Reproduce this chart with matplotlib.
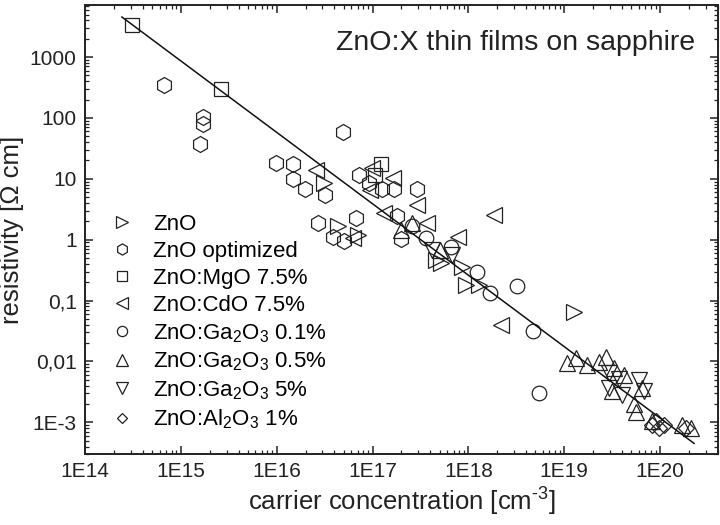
import numpy as np
import matplotlib
matplotlib.use('Agg')
import matplotlib.pyplot as plt
from matplotlib.ticker import FixedLocator, NullFormatter

plt.rcParams['font.family'] = ['Liberation Sans', 'DejaVu Sans']
plt.rcParams['mathtext.fontset'] = 'custom'
plt.rcParams['mathtext.rm'] = 'Liberation Sans'
plt.rcParams['mathtext.it'] = 'Liberation Sans'

# carrier concentration [cm^-3] / resistivity [Ohm cm]
zno_n = [3.1e16, 4.4e16, 7.0e16, 4.6e17, 5.2e17, 8.5e17, 9.5e17, 1.3e18, 1.27e19]
zno_r = [8.5, 1.66, 1.18, 0.46, 0.41, 0.35, 0.178, 0.178, 0.064]

opt_n = [6.6e14, 1.7e15, 1.7e15, 1.6e15, 4.9e16, 9.8e15, 1.47e16, 1.47e16, 1.96e16,
         3.2e16, 2.7e16, 6.8e16, 3.9e16, 5.0e16, 7.2e16, 9.1e16, 1.27e17, 1.66e17,
         2.9e17, 1.78e17, 1.96e17]
opt_r = [346, 103, 79, 37, 58, 18.1, 17.4, 9.8, 6.75,
         5.4, 1.86, 2.25, 1.09, 0.94, 11.5, 8.5, 6.75, 6.75,
         6.75, 2.43, 1.02]

mgo_n = [3.1e14, 2.6e15, 1.24e17, 1.05e17]
mgo_r = [3360, 298, 17.4, 11.5]

cdo_n = [2.6e16, 9.8e16, 9.3e16, 1.62e17, 2.9e17, 1.33e17, 3.7e17, 7.7e17, 1.87e18,
         2.2e18, 6.2e16]
cdo_r = [13.8, 14.9, 6.5, 10.2, 3.68, 2.72, 1.86, 1.09, 2.52,
         0.039, 1.05]

ga01_n = [2.55e17, 3.65e17, 6.6e17, 1.24e18, 1.66e18, 3.2e18, 4.75e18, 5.5e18]
ga01_r = [1.66, 1.05, 0.75, 0.29, 0.131, 0.171, 0.032, 0.0030]

ga05_n = [2.0e17, 2.6e17, 5.0e17, 1.07e19, 1.33e19, 1.74e19, 2.3e19, 2.74e19, 3.3e19,
          4.2e19, 3.16e19, 6.5e19, 5.6e19, 8.3e19, 1.69e20, 2.1e20, 5.4e19]
ga05_r = [1.43, 1.9, 0.67, 0.0093, 0.0112, 0.0086, 0.0098, 0.0118, 0.0077,
          0.0059, 0.0033, 0.0036, 0.00145, 0.00107, 0.00089, 0.00082, 0.0020]

ga5_n = [4.2e17, 6.8e17, 3.74e19, 6.0e19, 2.94e19, 4.0e19, 6.8e19, 2.94e19]
ga5_r = [0.67, 0.55, 0.0052, 0.0049, 0.0037, 0.0028, 0.0033, 0.0064]

al_n = [8.3e19, 9.8e19, 1.1e20, 1.86e20, 9.1e19]
al_r = [0.00089, 0.00082, 0.00089, 0.00082, 0.00107]

fit_n = [2.43e14, 2.26e20]
fit_r = [4550, 4.5e-4]

x_ticks = [1e14, 1e15, 1e16, 1e17, 1e18, 1e19, 1e20]
x_labels = ['1E14', '1E15', '1E16', '1E17', '1E18', '1E19', '1E20']
y_ticks = [1e-3, 1e-2, 1e-1, 1, 10, 100, 1000]
y_labels = ['1E-3', '0,01', '0,1', '1', '10', '100', '1000']

series = [
    (zno_n, zno_r, '>', 11.5, 'ZnO'),
    (opt_n, opt_r, 'h', 11.5, 'ZnO optimized'),
    (mgo_n, mgo_r, 's', 10, 'ZnO:MgO 7.5%'),
    (cdo_n, cdo_r, '<', 11.5, 'ZnO:CdO 7.5%'),
    (ga01_n, ga01_r, 'o', 10.5, 'ZnO:Ga$_2$O$_3$ 0.1%'),
    (ga05_n, ga05_r, '^', 11.5, 'ZnO:Ga$_2$O$_3$ 0.5%'),
    (ga5_n, ga5_r, 'v', 11.5, 'ZnO:Ga$_2$O$_3$ 5%'),
    (al_n, al_r, 'D', 8, 'ZnO:Al$_2$O$_3$ 1%'),
]

fig = plt.figure(figsize=(7.2, 5.25), dpi=100)
ax = fig.add_axes([0.118, 0.135, 0.879, 0.855])

for n, r, m, ms, lab in series:
    ax.plot(n, r, linestyle='none', marker=m, ms=ms, mfc='none', mec='#222222',
            mew=0.9, label=lab)

ax.plot(fit_n, fit_r, color='#111111', lw=1.1)

ax.set_xscale('log')
ax.set_yscale('log')
ax.set_xlim(1e14, 4e20)
ax.set_ylim(3e-4, 7.1e3)

def minor_ticks(lo, hi):
    out = []
    for e in range(lo, hi):
        out += [k * 10.0 ** e for k in range(2, 10)]
    return out

xmin = [v for v in minor_ticks(14, 21) if v <= 4e20]
ymin = [v for v in minor_ticks(-4, 4) if 3e-4 <= v <= 7.1e3]

ax.xaxis.set_major_locator(FixedLocator(x_ticks))
ax.yaxis.set_major_locator(FixedLocator(y_ticks))
ax.xaxis.set_minor_locator(FixedLocator(xmin))
ax.yaxis.set_minor_locator(FixedLocator(ymin))
ax.set_xticklabels(x_labels)
ax.set_yticklabels(y_labels)
ax.xaxis.set_minor_formatter(NullFormatter())
ax.yaxis.set_minor_formatter(NullFormatter())

ax.tick_params(which='both', direction='in', top=True, right=True, colors='#222222')
ax.tick_params(which='major', length=6, width=1.1, labelsize=15, pad=6)
ax.tick_params(which='minor', length=3, width=0.9)
for s in ax.spines.values():
    s.set_linewidth(1.4)
    s.set_color('#222222')

ax.set_xlabel('carrier concentration [cm$^{\\text{-}3}$]', fontsize=18.5, color='#222222', labelpad=3)
ax.set_ylabel('resistivity [\u03a9 cm]', fontsize=18.5, color='#222222', labelpad=4)

ax.text(0.964, 0.915, 'ZnO:X thin films on sapphire', transform=ax.transAxes,
        ha='right', va='center', fontsize=20.5, color='#222222')

ax.legend(loc='upper left', bbox_to_anchor=(0.041, 0.535), frameon=False,
          fontsize=16, markerscale=0.7, handlelength=1.0, handletextpad=0.9,
          labelspacing=0.27, borderpad=0, borderaxespad=0, numpoints=1)

fig.savefig('out.png', dpi=100)
